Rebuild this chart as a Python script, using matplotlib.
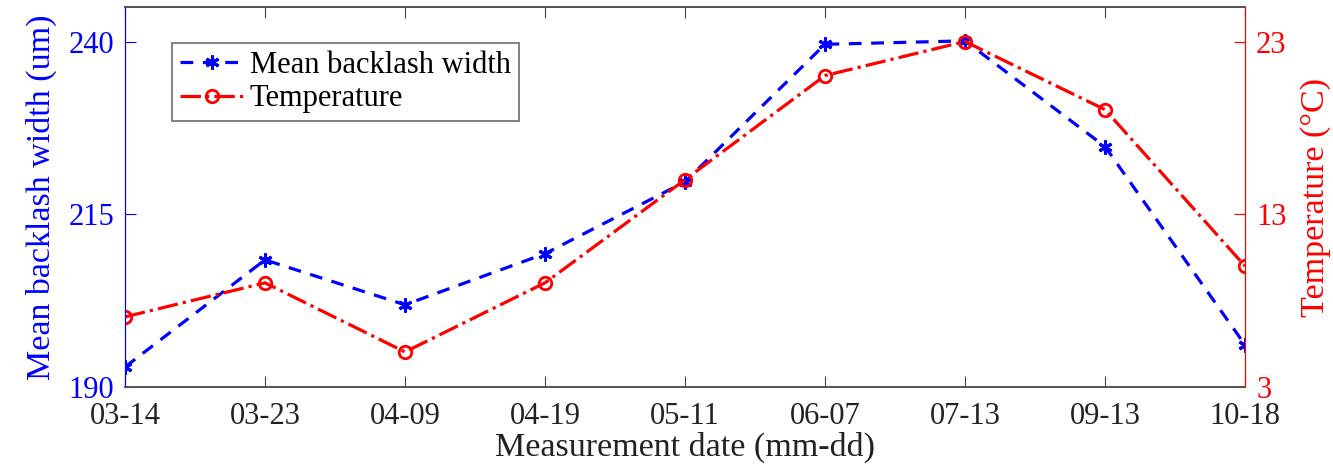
import numpy as np
import matplotlib
matplotlib.use('Agg')
import matplotlib.pyplot as plt

plt.rcParams['font.family'] = ['Liberation Serif', 'DejaVu Serif']

dates = ['03-14', '03-23', '04-09', '04-19', '05-11', '06-07', '07-13', '09-13', '10-18']
backlash = [192.9, 208.4, 201.9, 209.3, 219.7, 239.6, 240.1, 224.8, 196.1]
temperature = [7.06, 9.03, 5.03, 9.03, 15.0, 21.03, 23.0, 19.06, 10.0]

x = np.arange(len(dates))
fs = 22
lfs = 24.5

fig = plt.figure(figsize=(13.33, 4.74), dpi=100)
ax = fig.add_axes([125/1333, 1-387/474, 1120/1333, 380/474])
ax2 = ax.twinx()

l1, = ax.plot(x, backlash, color='blue', ls='--', lw=2.3, marker=(6, 2, 0),
              ms=10, mew=2.2, dashes=(4, 3), label='Mean backlash width')
l2, = ax2.plot(x, temperature, color='red', ls='-.', lw=2.3, marker='o',
               ms=9, mfc='none', mew=2, label='Temperature')

ax.set_xlim(0, len(dates) - 1)
ax.set_ylim(190, 245)
ax2.set_ylim(3, 25)
ax.set_yticks([190, 215, 240])
ax2.set_yticks([3, 13, 23])
ax.set_xticks(x)
ax.set_xticklabels(dates)

ax.tick_params(axis='x', direction='in', top=True, length=8, labelsize=fs, colors='#444444', labelcolor='#222222', pad=11)
ax.tick_params(axis='y', direction='in', length=8, labelsize=fs, colors='blue', pad=8)
ax2.tick_params(axis='y', direction='in', length=8, labelsize=fs, colors='red', pad=8)

for a in (ax, ax2):
    a.spines['top'].set_color('#555555')
    a.spines['bottom'].set_color('#555555')
    a.spines['top'].set_linewidth(1.3)
    a.spines['bottom'].set_linewidth(1.3)
ax.spines['left'].set_color('blue')
ax2.spines['left'].set_color('blue')
ax.spines['right'].set_color('red')
ax2.spines['right'].set_color('red')

ax.set_ylabel('Mean backlash width (um)', color='blue', fontsize=lfs, labelpad=8)
ax2.set_ylabel('Temperature (°C)', color='red', fontsize=lfs, labelpad=10)
ax.set_xlabel('Measurement date (mm-dd)', color='#222222', fontsize=lfs, labelpad=0)

leg = ax.legend(handles=[l1, l2], loc='upper left', bbox_to_anchor=(0.042, 0.905),
                fontsize=22, frameon=True, fancybox=False, edgecolor='#555555',
                handlelength=2.1, borderpad=0.25, labelspacing=0.15, handletextpad=0.2,
                borderaxespad=0)
leg.get_frame().set_linewidth(1.3)

fig.savefig('out.png', dpi=100)
